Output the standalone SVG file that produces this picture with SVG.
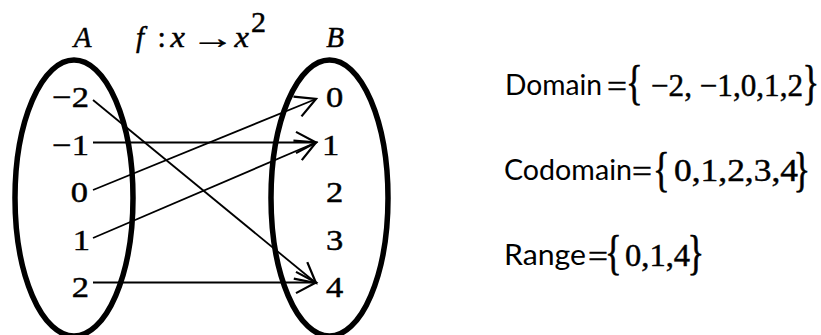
<svg xmlns="http://www.w3.org/2000/svg" width="821" height="335" viewBox="0 0 821 335">
<style>
.oval{fill:none;stroke:#000;stroke-width:5.5}
.num{font-family:"Liberation Serif","Times New Roman",serif;font-size:30px;fill:#000;stroke:#000;stroke-width:0.45}
.it{font-family:"Liberation Serif","Times New Roman",serif;font-size:29px;font-style:italic;fill:#000;stroke:#000;stroke-width:0.45}
.sans{font-family:Lato,"Liberation Sans",sans-serif;font-size:28px;fill:#000}
.math{font-family:"Liberation Serif","Times New Roman",serif;font-size:31px;fill:#000;stroke:#000;stroke-width:0.45}
.conn line{stroke:#000;stroke-width:1.8;fill:none;marker-end:url(#arr)}
</style>
<defs>
<marker id="arr" markerUnits="userSpaceOnUse" markerWidth="30" markerHeight="30" viewBox="-20 -12 24 24" refX="0" refY="0" orient="auto">
<path d="M-16,-8.5 L0,0 L-16,8.5" fill="none" stroke="#000" stroke-width="1.8"/>
</marker>
</defs>
<rect width="821" height="335" fill="#fff"/>

<g id="setA">
<ellipse class="oval" cx="74" cy="198" rx="59" ry="138"/>
<text class="it" x="82.5" y="47" text-anchor="middle">A</text>
</g>
<g id="setB">
<ellipse class="oval" cx="329.5" cy="198" rx="58.5" ry="138"/>
<text class="it" x="335" y="47" text-anchor="middle">B</text>
</g>
<g id="rule">
<text class="it" x="136" y="47">f</text>
<text class="num" x="157.5" y="47">:</text>
<text class="it" transform="translate(170.5,47) scale(1.12,1)">x</text>
<text class="num" font-size="34" transform="translate(191,47.5) scale(1.45,1)">→</text>
<text class="it" transform="translate(234.5,47) scale(1.12,1)">x</text>
<text class="num" x="251" y="32" font-size="20">2</text>
</g>

<g id="a-m2"><text class="num" text-anchor="end" transform="translate(89,107) scale(1.15,1)">−2</text></g>
<g id="a-m1"><text class="num" text-anchor="end" transform="translate(89,154.5) scale(1.15,1)">−1</text></g>
<g id="a-0"><text class="num" text-anchor="end" transform="translate(88,202) scale(1.15,1)">0</text></g>
<g id="a-1"><text class="num" text-anchor="end" transform="translate(90,249.5) scale(1.15,1)">1</text></g>
<g id="a-2"><text class="num" text-anchor="end" transform="translate(89,297) scale(1.15,1)">2</text></g>

<g id="b-0"><text class="num" transform="translate(326,107) scale(1.15,1)">0</text></g>
<g id="b-1"><text class="num" transform="translate(322,154.5) scale(1.15,1)">1</text></g>
<g id="b-2"><text class="num" transform="translate(326,202) scale(1.15,1)">2</text></g>
<g id="b-3"><text class="num" transform="translate(326,249.5) scale(1.15,1)">3</text></g>
<g id="b-4"><text class="num" transform="translate(326,297) scale(1.15,1)">4</text></g>

<g id="connectors" class="conn">
<line x1="93" y1="100" x2="316" y2="283"/>
<line x1="93" y1="142.5" x2="316" y2="142.5"/>
<line x1="93" y1="190" x2="316" y2="99"/>
<line x1="93" y1="238" x2="316" y2="142.5"/>
<line x1="93" y1="282.5" x2="316" y2="282.5"/>
</g>

<g id="domain">
<text class="sans" x="505" y="95" textLength="97" lengthAdjust="spacingAndGlyphs">Domain</text>
<text class="math" x="607" y="97" textLength="20" lengthAdjust="spacingAndGlyphs">=</text>
<text class="math" transform="translate(626,99) scale(1.12,1.6)">{</text>
<text class="math" x="651" y="96" textLength="152" lengthAdjust="spacingAndGlyphs">−2, −1,0,1,2</text>
<text class="math" transform="translate(802.4,99) scale(1.12,1.6)">}</text>
</g>
<g id="codomain">
<text class="sans" x="504" y="180" textLength="128" lengthAdjust="spacingAndGlyphs">Codomain</text>
<text class="math" x="632" y="182" textLength="20" lengthAdjust="spacingAndGlyphs">=</text>
<text class="math" transform="translate(653,186) scale(1.12,1.6)">{</text>
<text class="math" x="674" y="181" textLength="124" lengthAdjust="spacingAndGlyphs">0,1,2,3,4</text>
<text class="math" transform="translate(793.4,186) scale(1.12,1.6)">}</text>
</g>
<g id="range">
<text class="sans" x="504" y="265" textLength="82" lengthAdjust="spacingAndGlyphs">Range</text>
<text class="math" x="588" y="267" textLength="20" lengthAdjust="spacingAndGlyphs">=</text>
<text class="math" transform="translate(605,269) scale(1.12,1.6)">{</text>
<text class="math" x="625" y="266" textLength="65" lengthAdjust="spacingAndGlyphs">0,1,4</text>
<text class="math" transform="translate(687.4,269) scale(1.12,1.6)">}</text>
</g>
</svg>
